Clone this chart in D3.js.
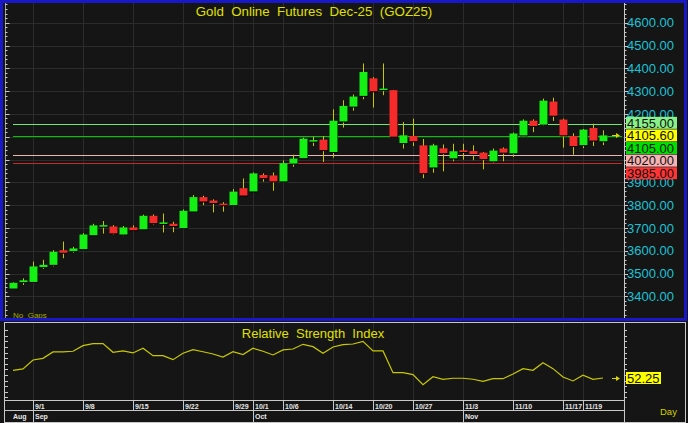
<!DOCTYPE html>
<html><head><meta charset="utf-8">
<script src="https://cdn.jsdelivr.net/npm/d3@7"></script>
<style>html,body{margin:0;padding:0;background:#151515;overflow:hidden}</style>
</head><body>
<svg id="c" width="688" height="423"></svg>
<script>
const dates = ["8/28","8/29","9/1","9/2","9/3","9/4","9/5","9/8","9/9","9/10","9/11","9/12","9/15","9/16","9/17","9/18","9/19","9/22","9/23","9/24","9/25","9/26","9/29","9/30","10/1","10/2","10/3","10/6","10/7","10/8","10/9","10/10","10/14","10/15","10/16","10/17","10/20","10/21","10/22","10/23","10/27","10/28","10/29","10/30","10/31","11/3","11/4","11/5","11/6","11/7","11/10","11/11","11/12","11/13","11/14","11/17","11/18","11/19","11/20","11/21"];
const open  = [3434,3462,3463,3528,3538,3602,3598,3607,3668,3707,3706,3671,3702,3694,3753,3720,3718,3699,3772,3835,3820,3806,3800,3874,3860,3932,3930,3904,3982,4006,4082,4087,4033,4167,4232,4279,4356,4305,4304,4072,4103,4062,3965,4049,4005,4040,4037,4030,3992,4048,4027,4106,4170,4153,4254,4175,4103,4063,4138,4080];
const high  = [3461,3479,3552,3560,3602,3640,3617,3677,3718,3730,3712,3708,3711,3758,3759,3763,3727,3781,3844,3841,3825,3813,3870,3917,3943,3939,3943,3996,4021,4096,4100,4103,4220,4260,4285,4421,4361,4421,4305,4164,4179,4090,4069,4066,4069,4069,4062,4033,4048,4053,4118,4176,4176,4267,4271,4179,4115,4134,4157,4128];
const low   = [3432,3450,3460,3520,3531,3567,3591,3605,3666,3675,3670,3667,3686,3693,3715,3680,3681,3697,3770,3800,3768,3771,3798,3840,3858,3903,3863,3902,3968,4003,4059,3989,4008,4140,4214,4264,4228,4282,4098,4048,4059,3918,3942,3948,3992,3999,3997,3957,3986,3992,4011,4100,4120,4147,4169,4052,4021,4050,4059,4063];
const close = [3459,3470,3531,3538,3595,3591,3610,3671,3711,3712,3676,3702,3690,3753,3721,3724,3708,3775,3835,3816,3809,3803,3859,3842,3939,3918,3904,3984,4004,4091,4085,4041,4170,4235,4276,4384,4299,4311,4100,4106,4080,3940,4062,4028,4036,4033,4024,4002,4039,4030,4114,4170,4147,4258,4192,4106,4059,4131,4083,4105.6];
const rsi   = [59.1,60.3,68.3,69.8,75.5,75.5,76.1,81.1,82.9,82.9,75.2,76.4,74.6,78.8,72.2,72.2,68.6,74.3,77.5,75.7,73.7,71.0,75.7,73.1,78.8,76.1,72.8,77.3,78.1,82.3,80.2,74.3,79.9,82.0,82.6,85.0,76.4,76.4,57.0,57.0,55.2,46.3,53.4,51.1,52.0,52.0,51.1,49.3,51.6,51.6,55.8,60.6,59.1,65.9,60.6,53.1,49.6,54.7,51.1,52.25];
const tickDates = ["9/1","9/8","9/15","9/22","9/29","10/1","10/6","10/14","10/20","10/27","11/3","11/10","11/17","11/19"];
const months = ["Aug","Sep","Oct","Nov"];
const monthStarts = ["8/28","9/1","10/1","11/3"];
const priceTicks = [3400,3500,3600,3700,3800,3900,4000,4100,4200,4300,4400,4500,4600];
const levels = [4155, 4105, 4020, 3985];
const levelNames = ["4155.00","4105.00","4020.00","3985.00"];
const lastPrice = 4105.60;
const lastRsi = 52.25;
const titleText = "Gold  Online  Futures  Dec-25  (GOZ25)";
const rsiTitle = "Relative  Strength  Index";

const svg = d3.select("#c");
const FONT = "Liberation Sans, Arial, sans-serif";
const x = d3.scalePoint().domain(dates).range([13, 603]);
const y = d3.scaleLinear().domain([3400, 4600]).range([296.3, 22.7]);
const ry = d3.scaleLinear().domain([35, 95]).range([397.3, 330.1]);
const GRID = "#2c2c2c", RULE = "#c8c8c8", YEL = "#d8d800", WICK = "#c8c800";

svg.append("rect").attr("width", 688).attr("height", 423).attr("fill", "#151515");

// ---------- main panel grid ----------
const g = svg.append("g");
g.selectAll(".hg").data(priceTicks).join("line")
  .attr("x1", 5).attr("x2", 624).attr("y1", d => Math.round(y(d)) + 0.5).attr("y2", d => Math.round(y(d)) + 0.5)
  .attr("stroke", GRID);
g.selectAll(".vg").data(tickDates).join("line")
  .attr("x1", d => x(d) + 0.5).attr("x2", d => x(d) + 0.5).attr("y1", 3).attr("y2", 318)
  .attr("stroke", GRID);

// level lines
const levelColors = ["#6ee86e", "#00c800", "#e8b4b4", "#c82828"];
g.selectAll(".lv").data(levels).join("line")
  .attr("x1", 13).attr("x2", 622)
  .attr("y1", d => Math.round(y(d)) + 0.5).attr("y2", d => Math.round(y(d)) + 0.5)
  .attr("stroke", (d, i) => levelColors[i]).attr("stroke-width", 1.2);

// candles
const candles = dates.map((d, i) => ({d, o: open[i], h: high[i], l: low[i], c: close[i]}));
const cg = g.append("g");
cg.selectAll(".wk").data(candles).join("line")
  .attr("x1", d => x(d.d) + 0.5).attr("x2", d => x(d.d) + 0.5)
  .attr("y1", d => y(d.h)).attr("y2", d => y(d.l))
  .attr("stroke", WICK).attr("stroke-width", 1);
cg.selectAll(".sh").data(candles).join("rect")
  .attr("x", d => x(d.d) - 3).attr("y", d => y(Math.max(d.o, d.c)) + 1)
  .attr("width", 8).attr("height", d => Math.max(1.5, Math.abs(y(d.o) - y(d.c))))
  .attr("fill", "#000");
cg.selectAll(".bd").data(candles).join("rect")
  .attr("x", d => x(d.d) - 3.5).attr("y", d => y(Math.max(d.o, d.c)))
  .attr("width", 8).attr("height", d => Math.max(1.5, Math.abs(y(d.o) - y(d.c))))
  .attr("fill", d => d.c >= d.o ? "#14f014" : "#f52a2a");

// axes rulers
g.append("line").attr("x1", 624.5).attr("x2", 624.5).attr("y1", 3).attr("y2", 318).attr("stroke", RULE);
g.append("line").attr("x1", 5.5).attr("x2", 5.5).attr("y1", 3).attr("y2", 318).attr("stroke", "#9a9a9a");
const minorTicks = d3.range(3320, 4700, 20);
g.selectAll(".rt").data(minorTicks).join("line")
  .attr("x1", 624).attr("x2", d => d % 100 === 0 ? 628 : 626.5)
  .attr("y1", d => Math.round(y(d)) + 0.5).attr("y2", d => Math.round(y(d)) + 0.5)
  .attr("stroke", RULE);
g.selectAll(".lt").data(minorTicks).join("line")
  .attr("x1", 5).attr("x2", d => d % 100 === 0 ? 9.5 : 7.5)
  .attr("y1", d => Math.round(y(d)) + 0.5).attr("y2", d => Math.round(y(d)) + 0.5)
  .attr("stroke", RULE);
g.selectAll(".pl").data(priceTicks).join("text")
  .attr("x", 627).attr("y", d => y(d)).attr("dy", "0.36em")
  .attr("font-family", FONT).attr("font-size", 13).attr("fill", "#1cc2d6")
  .text(d => d3.format(".2f")(d));

// price label boxes (stacked to avoid overlap)
const boxes = [
  {v: levels[0], t: levelNames[0], bg: "#88f088"},
  {v: lastPrice, t: d3.format(".2f")(lastPrice), bg: "#ffff00", anchor: true},
  {v: levels[1], t: levelNames[1], bg: "#00e000"},
  {v: levels[2], t: levelNames[2], bg: "#f4b4b4"},
  {v: levels[3], t: levelNames[3], bg: "#ff3434"}
];
const BH = 12, PITCH = 12.6;
const ai = boxes.findIndex(b => b.anchor);
boxes.forEach(b => b.cy = y(b.v));
for (let i = ai + 1; i < boxes.length; i++) boxes[i].cy = Math.max(boxes[i].cy, boxes[i - 1].cy + PITCH);
for (let i = ai - 1; i >= 0; i--) boxes[i].cy = Math.min(boxes[i].cy, boxes[i + 1].cy - PITCH);
const bg = g.selectAll(".bx").data(boxes).join("g");
bg.append("rect").attr("x", 626).attr("width", 51).attr("y", d => d.cy - BH / 2).attr("height", BH).attr("fill", d => d.bg);
bg.append("text").attr("x", 627).attr("y", d => d.cy).attr("dy", "0.36em")
  .attr("font-family", FONT).attr("font-size", 13).attr("fill", "#101010").text(d => d.t);

// last price arrow
function arrow(sel, cy) {
  sel.append("line").attr("x1", 612).attr("x2", 618).attr("y1", cy).attr("y2", cy).attr("stroke", YEL).attr("stroke-width", 1);
  sel.append("path").attr("d", `M616,${cy - 2.5}L620,${cy}L616,${cy + 2.5}Z`).attr("fill", YEL);
}
arrow(g, Math.round(y(lastPrice)) + 0.5);

// title
g.append("text").attr("x", 314).attr("y", 15.5).attr("text-anchor", "middle")
  .attr("font-family", FONT).attr("font-size", 13.3).attr("fill", "#e0e000")
  .style("white-space", "pre").text(titleText);
g.append("text").attr("x", 13).attr("y", 318).attr("font-family", FONT).attr("font-size", 8)
  .attr("fill", "#a8a800").style("white-space", "pre").text("No  Gaps");

// main frame
svg.append("rect").attr("x", 1.5).attr("y", 1.5).attr("width", 684).attr("height", 318)
  .attr("fill", "none").attr("stroke", "#1818c8").attr("stroke-width", 3);

// ---------- RSI panel ----------
const r = svg.append("g");
r.selectAll(".rvg").data(tickDates).join("line")
  .attr("x1", d => x(d) + 0.5).attr("x2", d => x(d) + 0.5).attr("y1", 323).attr("y2", 400)
  .attr("stroke", GRID);
r.append("path").datum(rsi)
  .attr("d", d3.line().x((d, i) => x(dates[i])).y(d => ry(d)))
  .attr("fill", "none").attr("stroke", "#c8c800").attr("stroke-width", 1.2);
r.append("text").attr("x", 313).attr("y", 337.5).attr("text-anchor", "middle")
  .attr("font-family", FONT).attr("font-size", 13).attr("fill", "#e0e000")
  .style("white-space", "pre").text(rsiTitle);
const rt = d3.range(35, 100, 5);
r.selectAll(".rrt").data(rt).join("line")
  .attr("x1", 624).attr("x2", 627).attr("y1", d => Math.round(ry(d)) + 0.5).attr("y2", d => Math.round(ry(d)) + 0.5)
  .attr("stroke", RULE);
r.selectAll(".rlt").data(rt).join("line")
  .attr("x1", 5).attr("x2", 8).attr("y1", d => Math.round(ry(d)) + 0.5).attr("y2", d => Math.round(ry(d)) + 0.5)
  .attr("stroke", RULE);
r.append("rect").attr("x", 626).attr("width", 35).attr("y", ry(lastRsi) - 6).attr("height", 12).attr("fill", "#ffff00");
r.append("text").attr("x", 627).attr("y", ry(lastRsi)).attr("dy", "0.36em")
  .attr("font-family", FONT).attr("font-size", 13).attr("fill", "#101010").text(d3.format(".2f")(lastRsi));
arrow(r, Math.round(ry(lastRsi)) + 0.5);

// borders of RSI panel & date rows
r.append("rect").attr("x", 4.5).attr("y", 322.5).attr("width", 681).attr("height", 100)
  .attr("fill", "none").attr("stroke", RULE);
r.append("line").attr("x1", 624.5).attr("x2", 624.5).attr("y1", 322).attr("y2", 423).attr("stroke", RULE);
r.append("line").attr("x1", 5).attr("x2", 624).attr("y1", 400.5).attr("y2", 400.5).attr("stroke", RULE);
r.append("line").attr("x1", 5).attr("x2", 624).attr("y1", 410.5).attr("y2", 410.5).attr("stroke", RULE);
r.selectAll(".dsep").data(tickDates).join("line")
  .attr("x1", d => x(d) + 0.5).attr("x2", d => x(d) + 0.5).attr("y1", 400).attr("y2", 410.5).attr("stroke", RULE);
r.selectAll(".dl").data(tickDates).join("text")
  .attr("x", d => x(d) + 2).attr("y", 408.5)
  .attr("font-family", FONT).attr("font-size", 7).attr("font-weight", "bold").attr("fill", "#e8e8e8").text(d => d);
r.selectAll(".msep").data(monthStarts.slice(1)).join("line")
  .attr("x1", d => x(d) + 0.5).attr("x2", d => x(d) + 0.5).attr("y1", 410.5).attr("y2", 423).attr("stroke", RULE);
r.selectAll(".ml").data(months).join("text")
  .attr("x", (d, i) => i === 0 ? x(monthStarts[0]) : x(monthStarts[i]) + 2).attr("y", 418.5)
  .attr("font-family", FONT).attr("font-size", 7).attr("font-weight", "bold").attr("fill", "#e8e8e8").text(d => d);
r.append("text").attr("x", 660).attr("y", 415).attr("font-family", FONT).attr("font-size", 9.5)
  .attr("fill", "#d0d000").text("Day");
</script>
</body></html>
